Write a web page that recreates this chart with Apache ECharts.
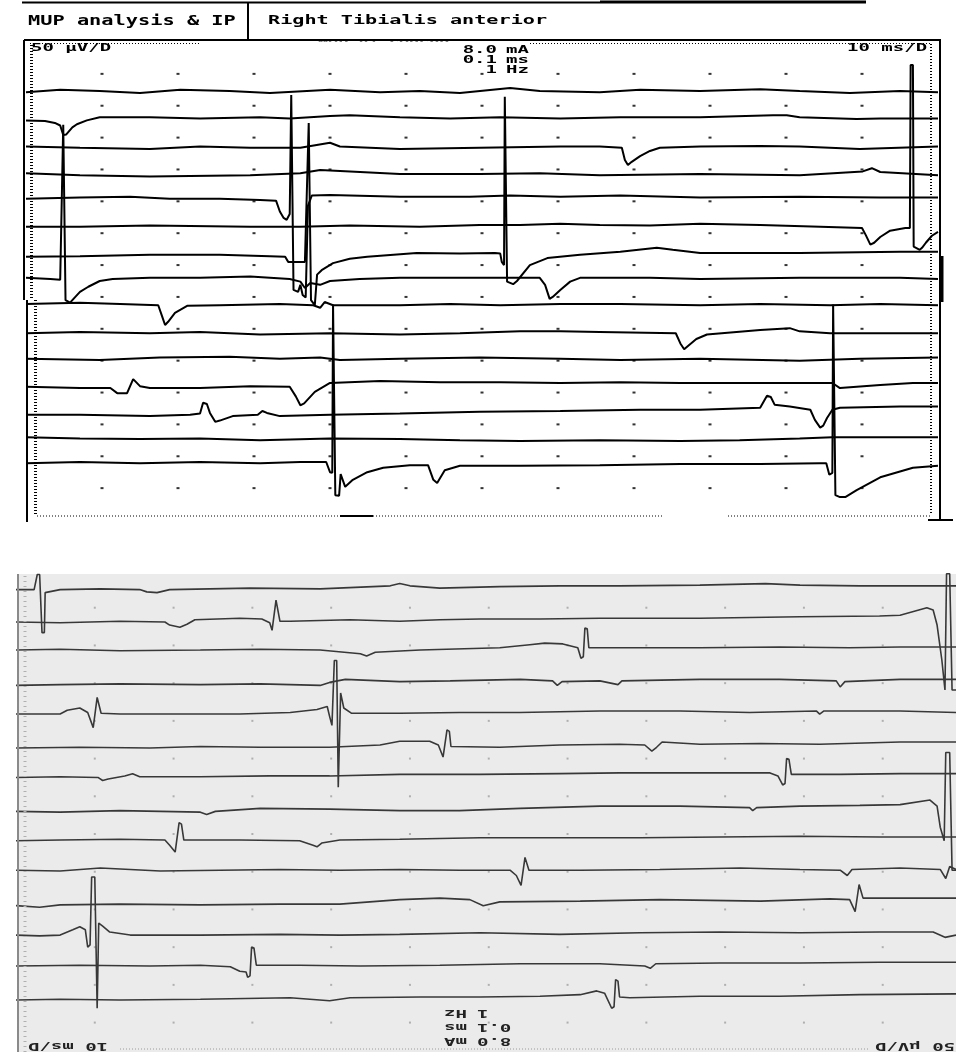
<!DOCTYPE html>
<html>
<head>
<meta charset="utf-8">
<script src="https://cdn.jsdelivr.net/npm/echarts@6/dist/echarts.min.js"></script>
<style>
  html, body { margin: 0; padding: 0; background: #fff; }
  #chart { width: 956px; height: 1052px; }
</style>
</head>
<body>
<div id="chart"></div>
<script>
// Raster EMG sweeps: time in ms (10 ms/D), amplitude in µV (50 µV/D).
// Each sweep is stored as [time ms, deflection µV] around its own baseline.

const xDivisions = [10, 20, 30, 40, 50, 60, 70, 80, 90, 100, 110];
const upperYDivisions = [50, 100, 150, 200, 250, 300, 350, 400, 450, 500, 550, 600, 650, 700];
const lowerYDivisions = [50, 100, 150, 200, 250, 300, 350, 400, 450, 500, 550, 600];

// baselines of the sweeps (µV position in the raster)
const upperBaselines = [673, 632, 584, 541, 504, 460, 416, 380, 339, 293, 253, 207, 165, 130, 91];
const lowerBaselines = [625, 581, 544, 498, 460, 415, 376, 330, 292, 252, 206, 166, 125, 80];

// upper raster
const upper1 = [[0,-2],[4.5,2],[9.7,0],[15.0,-3],[20.3,2],[26.8,0],[32.1,-3],[40.0,2],[46.6,-2],[51.8,0],[57.1,-3],[63.7,5],[67.6,0],[75.5,-2],[80.8,2],[88.7,0],[96.6,3],[101.8,0],[108.4,-3],[115.0,0],[120,-2]];
const upper2 = [[0,-5],[2.5,-6],[3.8,-9],[4.5,-13],[4.9,-28],[5.3,-27],[6.1,-16],[6.7,-11],[8.0,-5],[9.7,0],[16.3,0],[22.9,-2],[30.8,0],[34.7,-2],[40.0,2],[42.6,3],[49.2,0],[55.8,-2],[62.4,0],[70.3,-2],[78.2,0],[88.7,0],[98.3,3],[100.1,3],[101.8,0],[109.3,-3],[112.4,-2],[120,-2]];
const upper3 = [[0,2],[7.1,0],[16.3,-2],[22.9,2],[29.5,0],[36.1,0],[40.0,8],[41.3,2],[49.2,-2],[59.7,0],[70.3,2],[75.5,2],[78.4,0],[78.8,-19],[79.2,-27],[79.7,-22],[80.8,-13],[82.1,-5],[83.4,0],[88.7,2],[96.6,3],[101.8,2],[109.7,-2],[120,2]];
const upper4 = [[0,3],[7.1,0],[16.3,-2],[29.5,0],[36.1,3],[38.7,8],[49.2,2],[59.7,2],[67.6,3],[75.5,0],[88.7,2],[101.8,0],[110.1,6],[111.3,11],[112.4,5],[120,0]];
const upper5 = [[0,0],[7.1,2],[13.7,3],[18.9,0],[25.5,0],[30.8,-2],[32.9,-3],[33.4,-20],[33.9,-30],[34.3,-33],[34.7,-24],[34.9,163],[35.1,163],[35.2,-143],[35.8,-146],[36.1,-135],[36.4,-151],[36.8,-155],[37.1,-11],[37.6,5],[40.0,6],[49.2,3],[58.4,3],[63.7,5],[70.3,3],[78.2,5],[88.7,2],[101.8,3],[112.4,2],[120,2]];
const upper6 = [[0,0],[7.1,0],[16.3,2],[29.5,0],[36.1,0],[42.6,2],[51.8,0],[59.7,3],[65.0,3],[70.3,5],[75.5,3],[82.1,2],[88.7,5],[96.6,3],[104.5,0],[110.0,-2],[110.5,-13],[111.1,-28],[111.6,-25],[112.4,-16],[113.7,-6],[115.7,-2],[116.3,-2],[116.4,254],[116.7,254],[116.8,-31],[117.6,-36],[117.9,-33],[118.4,-25],[119.2,-14],[120,-8]];
const upper7 = [[0,-3],[7.1,-2],[16.3,0],[25.5,0],[32.1,-2],[34.1,-3],[34.5,-11],[35.0,-11],[36.7,-11],[37.2,207],[37.4,207],[37.5,-71],[38.0,-79],[38.3,-31],[38.9,-24],[40.4,-13],[42.6,-6],[44.9,-3],[51.4,3],[57.1,2],[61.7,3],[62.4,2],[62.6,-11],[62.9,-16],[63.0,248],[63.2,248],[63.3,-42],[64.1,-46],[64.6,-41],[66.3,-16],[68.6,-5],[72.9,0],[78.2,5],[83.0,11],[85.1,8],[88.7,3],[101.8,3],[115.0,5],[120,5]];
const upper8 = [[0,0],[3.2,-2],[4.5,-3],[4.7,-5],[4.9,240],[5.1,240],[5.2,-35],[5.8,-39],[6.4,-31],[7.1,-22],[8.2,-14],[9.7,-5],[11.4,-2],[16.3,0],[22.9,0],[29.5,2],[34.7,-2],[36.1,-6],[36.7,-16],[37.4,-8],[38.7,-11],[40.0,-5],[43.9,-2],[49.2,0],[59.7,0],[67.6,0],[68.3,-11],[68.9,-33],[69.3,-30],[70.3,-19],[71.6,-6],[72.9,0],[82.1,0],[88.7,-2],[101.8,0],[115.0,0],[120,-2]];
const upper9 = [[0,0],[7.1,2],[12.4,0],[17.4,-2],[17.9,-19],[18.3,-33],[18.7,-28],[19.6,-14],[21.2,-3],[25.5,-2],[33.4,0],[37.8,-2],[38.7,-6],[39.3,3],[40.4,-2],[42.6,-2],[49.2,-2],[55.8,0],[62.4,-2],[70.3,0],[78.2,0],[88.7,-2],[96.6,0],[105.8,-2],[112.4,0],[120,-2]];
const upper10 = [[0,0],[7.1,2],[16.3,0],[22.9,2],[30.8,-2],[40.0,0],[49.2,-2],[57.1,0],[65.0,3],[70.3,3],[75.5,2],[85.5,0],[86.1,-16],[86.6,-25],[87.1,-20],[88.2,-9],[89.6,-2],[96.6,5],[100.5,8],[101.8,3],[105.8,0],[115.0,0],[120,0]];
const upper11 = [[0,0],[9.7,-2],[17.6,2],[26.8,3],[33.4,0],[38.7,2],[41.3,-2],[49.2,0],[59.7,2],[70.3,0],[78.2,-2],[88.7,0],[101.8,-3],[109.7,0],[120,2]];
const upper12 = [[0,2],[7.1,0],[11.1,0],[12.0,-8],[13.3,-8],[14.1,14],[15.0,3],[16.3,0],[22.9,0],[29.5,3],[34.7,2],[35.5,-13],[36.1,-27],[36.6,-24],[38.0,-6],[40.0,8],[46.6,11],[54.5,9],[62.4,9],[70.3,8],[78.2,9],[86.1,8],[96.6,8],[106.1,8],[107.1,0],[112.4,5],[116.7,8],[120,8]];
const upper13 = [[0,0],[7.1,0],[16.3,-2],[21.6,0],[22.9,2],[23.3,19],[23.8,17],[24.2,3],[24.9,-11],[25.5,-9],[27.2,-2],[30.5,0],[31.1,6],[31.7,3],[33.4,-2],[40.0,0],[49.2,2],[59.7,5],[70.3,6],[80.8,8],[88.7,8],[96.6,11],[97.5,30],[98.0,28],[98.5,16],[100.5,13],[103.2,8],[103.8,-8],[104.5,-20],[104.9,-17],[105.4,-5],[106.1,8],[107.1,11],[115.0,13],[120,13]];
const upper14 = [[0,0],[7.1,-2],[15.0,-3],[22.9,-2],[30.8,-5],[40.0,-2],[49.2,-3],[57.1,-5],[65.0,-6],[75.5,-5],[86.1,-6],[93.9,-5],[101.8,-2],[106.1,0],[112.4,0],[120,0]];
const upper15 = [[0,-2],[7.1,0],[15.0,-2],[22.9,0],[30.8,-2],[36.1,0],[39.5,0],[40.0,-16],[40.3,-17],[40.4,247],[40.6,247],[40.7,-52],[41.2,-53],[41.4,-19],[42.0,-39],[43.0,-28],[44.9,-16],[47.0,-9],[50.5,-5],[52.9,-5],[53.6,-28],[54.1,-33],[55.1,-13],[57.1,-6],[65.0,-6],[75.5,-5],[86.1,-3],[96.6,-3],[104.5,-2],[105.3,-2],[105.7,-20],[106.1,-17],[106.2,247],[106.4,247],[106.5,-52],[107.1,-55],[107.8,-55],[109.3,-44],[112.4,-24],[116.7,-9],[120,-6]];

// lower raster
const lower1 = [[0,-1],[2.3,-1],[2.7,19],[3.0,19],[3.3,-58],[3.6,-58],[3.7,-5],[5.6,-1],[10.7,0],[15.7,-1],[16.6,-4],[17.9,-5],[19.5,-1],[29.7,1],[38.6,0],[47.5,4],[48.7,7],[50.0,4],[53.8,1],[61.4,3],[69.0,4],[76.6,4],[86.8,5],[95.1,7],[99.5,5],[107.1,4],[114.7,4],[119.3,4]];
const lower2 = [[0,0],[5.6,-1],[13.2,1],[18.9,0],[19.5,-4],[20.8,-7],[21.7,-3],[22.7,3],[28.4,5],[31.2,4],[32.2,-1],[32.5,-11],[32.7,-9],[33.0,29],[33.2,28],[33.5,1],[34.8,1],[42.4,3],[48.7,1],[53.8,3],[58.9,4],[66.5,4],[74.1,5],[86.8,5],[99.5,7],[109.6,8],[112.2,9],[115.6,19],[116.4,16],[116.9,-4],[117.5,-50],[117.9,-90],[118.1,64],[118.5,64],[118.8,-90],[119.3,-90]];
const lower3 = [[0,0],[5.6,1],[13.2,-1],[23.4,0],[31.0,1],[38.6,0],[43.7,-5],[44.5,-8],[45.6,-3],[51.3,0],[61.4,3],[65.2,7],[67.1,9],[69.4,8],[71.3,3],[71.7,-11],[72.0,-9],[72.2,29],[72.5,28],[72.7,3],[74.1,3],[86.8,3],[96.9,4],[105.8,3],[112.2,4],[119.3,4]];
const lower4 = [[0,-1],[5.6,0],[13.2,1],[23.4,0],[31.0,1],[38.6,-1],[39.8,3],[41.8,7],[48.7,4],[55.1,5],[64.0,7],[68.1,5],[68.7,-1],[69.3,4],[74.1,5],[76.4,0],[76.9,5],[86.8,7],[96.9,7],[104.1,5],[104.6,-3],[105.2,4],[112.2,7],[119.3,7]];
const lower5 = [[0,-1],[5.6,-1],[6.5,4],[8.1,7],[9.1,1],[9.8,-19],[10.0,-19],[10.3,21],[10.5,20],[10.8,0],[13.2,-1],[19.5,-1],[28.4,-1],[34.8,1],[38.2,5],[39.5,9],[39.8,-4],[40.1,-16],[40.4,70],[40.7,70],[40.9,-98],[41.1,-98],[41.2,27],[41.6,7],[42.6,0],[48.7,0],[56.3,1],[63.9,1],[74.1,3],[84.3,3],[93.1,1],[101.6,3],[102.0,-1],[102.5,3],[112.2,3],[119.3,1]];
const lower6 = [[0,-1],[8.1,0],[17.0,-1],[23.4,1],[31.0,0],[39.8,0],[46.2,3],[48.7,8],[52.5,8],[53.6,3],[54.2,-13],[54.4,-12],[54.7,23],[55.0,21],[55.2,1],[61.4,0],[69.0,3],[76.6,4],[79.8,3],[80.7,-5],[81.3,0],[82.0,7],[86.8,4],[94.5,5],[102.0,4],[112.2,7],[119.3,7]];
const lower7 = [[0,-1],[5.6,0],[10.4,-1],[11.0,-5],[11.7,-3],[13.8,1],[14.8,4],[15.7,0],[23.4,0],[32.2,1],[39.8,1],[48.7,3],[58.9,3],[69.0,4],[76.6,5],[86.8,5],[95.7,5],[96.7,1],[97.3,-11],[97.6,-9],[97.8,24],[98.1,23],[98.4,3],[104.6,3],[112.2,4],[116.0,4],[119.3,4]];
const lower8 = [[0,0],[5.6,-1],[13.2,1],[23.4,-1],[24.2,-4],[25.3,0],[31.0,4],[39.8,3],[48.7,1],[56.3,1],[64.0,4],[74.1,7],[84.3,7],[93.1,5],[93.5,1],[94.0,5],[99.5,7],[107.1,8],[112.2,9],[116.0,15],[116.9,7],[117.3,-21],[117.8,-39],[118.0,78],[118.5,78],[118.8,-78],[119.3,-78]];
const lower9 = [[0,-1],[5.6,0],[13.2,1],[18.9,0],[19.5,-7],[20.2,-16],[20.4,-15],[20.7,23],[21.0,21],[21.3,0],[28.4,0],[36.0,-1],[37.7,-7],[38.2,-9],[38.8,-4],[41.1,0],[48.7,1],[58.9,3],[69.0,3],[79.2,3],[89.3,4],[99.5,5],[109.6,4],[119.3,4]];
const lower10 = [[0,0],[5.6,-1],[10.7,3],[18.3,-1],[25.9,0],[33.5,1],[41.1,0],[48.7,1],[56.3,0],[62.7,0],[63.5,-7],[64.1,-20],[64.3,-19],[64.6,17],[64.8,16],[65.1,0],[71.6,0],[81.7,1],[91.9,3],[99.5,1],[104.6,0],[105.5,-7],[106.1,1],[112.2,3],[117.3,1],[118.0,-11],[118.5,5],[119.3,1]];
const lower11 = [[0,-1],[3.0,-3],[5.6,0],[13.2,1],[23.4,0],[33.5,1],[41.1,1],[48.7,7],[53.8,9],[57.6,7],[59.3,-1],[61.4,4],[71.6,5],[81.7,7],[94.5,5],[103.3,8],[105.8,7],[106.5,-9],[106.7,-8],[107.0,27],[107.2,25],[107.5,9],[112.2,9],[119.3,9]];
const lower12 = [[0,0],[3.0,-1],[5.6,0],[7.2,7],[8.1,11],[8.8,7],[9.1,-16],[9.4,-13],[9.6,77],[10.0,77],[10.3,-97],[10.4,-97],[10.5,16],[11.0,12],[11.9,4],[14.5,0],[23.4,0],[33.5,1],[41.1,0],[48.7,1],[58.9,3],[69.0,1],[79.2,3],[89.3,4],[99.5,3],[109.6,4],[116.4,4],[117.9,-3],[119.3,0]];
const lower13 = [[0,0],[8.1,1],[17.0,0],[23.4,1],[27.2,-1],[28.4,-7],[29.2,-8],[29.4,-15],[29.7,-13],[29.9,25],[30.2,24],[30.5,1],[36.0,1],[43.7,0],[53.8,1],[64.0,3],[74.1,3],[79.8,0],[80.5,-3],[81.2,3],[89.3,4],[99.5,4],[109.6,5],[119.3,5]];
const lower14 = [[0,0],[5.6,1],[13.2,0],[23.4,1],[34.8,3],[39.8,-1],[42.4,3],[51.3,4],[58.9,4],[66.5,5],[71.6,7],[73.7,12],[74.7,9],[75.6,-11],[75.9,-9],[76.1,27],[76.4,25],[76.6,4],[77.9,3],[86.8,5],[96.9,5],[107.1,7],[119.3,8]];

const upperTraces = [upper1, upper2, upper3, upper4, upper5, upper6, upper7, upper8, upper9, upper10, upper11, upper12, upper13, upper14, upper15];
const lowerTraces = [lower1, lower2, lower3, lower4, lower5, lower6, lower7, lower8, lower9, lower10, lower11, lower12, lower13, lower14];

const chart = echarts.init(document.getElementById('chart'), null, { renderer: 'canvas' });

const series = [];

// division dots
const upperDots = [];
xDivisions.forEach(x => upperYDivisions.forEach(y => upperDots.push([x, y])));
const lowerDots = [];
xDivisions.forEach(x => lowerYDivisions.forEach(y => lowerDots.push([x, y])));

series.push({
  type: 'scatter', xAxisIndex: 0, yAxisIndex: 0, data: upperDots,
  symbol: 'rect', symbolSize: [3, 2], itemStyle: { color: '#000' }, silent: true, z: 2
});
series.push({
  type: 'scatter', xAxisIndex: 1, yAxisIndex: 1, data: lowerDots,
  symbol: 'rect', symbolSize: [2, 2], itemStyle: { color: '#a0a0a0' }, silent: true, z: 2
});

upperTraces.forEach((trace, i) => {
  series.push({
    type: 'line', xAxisIndex: 0, yAxisIndex: 0,
    data: trace.map(p => [p[0], upperBaselines[i] + p[1]]),
    symbol: 'none', showSymbol: false, smooth: false,
    lineStyle: { color: '#000', width: 2 },
    silent: true, z: 3
  });
});

lowerTraces.forEach((trace, i) => {
  series.push({
    type: 'line', xAxisIndex: 1, yAxisIndex: 1,
    data: trace.map(p => [p[0], lowerBaselines[i] + p[1]]),
    symbol: 'none', showSymbol: false, smooth: false,
    lineStyle: { color: '#383838', width: 1.6 },
    silent: true, z: 3
  });
});

const MONO = '"DejaVu Sans Mono", "Liberation Mono", monospace';

function hline(x1, x2, y, w, color, dash) {
  return { type: 'line', silent: true, z: 12,
    shape: { x1: x1, y1: y, x2: x2, y2: y },
    style: { stroke: color || '#000', lineWidth: w, lineDash: dash || null } };
}
function vline(x, y1, y2, w, color, dash) {
  return { type: 'line', silent: true, z: 12,
    shape: { x1: x, y1: y1, x2: x, y2: y2 },
    style: { stroke: color || '#000', lineWidth: w, lineDash: dash || null } };
}
function label(text, x, y, opts) {
  opts = opts || {};
  return { type: 'text', silent: true, z: opts.z || 13,
    x: x, y: y, scaleX: opts.scaleX || 1.9, rotation: opts.rotation || 0,
    style: { text: text, font: 'bold ' + (opts.size || 10) + 'px ' + MONO,
      fill: opts.color || '#000', align: opts.align || 'left', verticalAlign: 'middle' } };
}

const graphic = [
  // lower panel background and left edge
  { type: 'rect', silent: true, z: 0, shape: { x: 17, y: 574, width: 939, height: 478 }, style: { fill: '#ebebeb' } },
  vline(18, 574, 1052, 2, '#8a8a8a'),
  vline(25, 576, 1052, 3, '#b0b0b0', [1, 4]),
  hline(120, 870, 1049, 1, '#9a9a9a', [1, 2]),

  // upper panel frame
  hline(22, 600, 2.5, 2),
  hline(600, 866, 2, 3),
  vline(248, 3, 40, 2),
  label('MUP 01 CURSOR', 318, 45, { size: 12, scaleX: 1.4, z: 10 }),
  { type: 'rect', silent: true, z: 11, shape: { x: 300, y: 41.5, width: 180, height: 10 }, style: { fill: '#fff' } },
  hline(24, 941, 40, 2),
  vline(24, 40, 300, 2),
  vline(27, 300, 522, 2),
  vline(31.5, 45, 300, 3, '#000', [1, 2]),
  vline(35.5, 300, 515, 3, '#000', [1, 2]),
  hline(30, 200, 43.5, 1, '#000', [1, 2]),
  hline(530, 932, 43.5, 1, '#000', [1, 2]),
  vline(931, 44, 515, 2, '#000', [1, 2]),
  vline(940, 39, 520, 2),
  vline(942, 256, 302, 3),
  hline(37, 663, 516, 1, '#000', [1, 2]),
  hline(728, 932, 516, 1, '#000', [1, 2]),
  hline(340, 373, 516, 2),
  hline(928, 953, 520, 2),

  // header texts
  label('MUP analysis & IP', 28, 21, { size: 14, scaleX: 1.45 }),
  label('Right Tibialis anterior', 268, 21, { size: 13, scaleX: 1.55 }),

  // sensitivity / sweep / stimulus settings
  label('50 µV/D', 31, 48, {}),
  label('10 ms/D', 847, 48, {}),
  label('8.0', 497, 50, { align: 'right' }),
  label('mA', 506, 50, {}),
  label('0.1', 497, 60, { align: 'right' }),
  label('ms', 506, 60, {}),
  label('1', 497, 70, { align: 'right' }),
  label('Hz', 506, 70, {}),

  // lower panel settings, printed upside down
  label('1', 477, 1013, { align: 'right', rotation: Math.PI, color: '#222' }),
  label('Hz', 467, 1013, { rotation: Math.PI, color: '#222' }),
  label('0.1', 477, 1027, { align: 'right', rotation: Math.PI, color: '#222' }),
  label('ms', 467, 1027, { rotation: Math.PI, color: '#222' }),
  label('8.0', 477, 1041, { align: 'right', rotation: Math.PI, color: '#222' }),
  label('mA', 467, 1041, { rotation: Math.PI, color: '#222' }),
  label('10 ms/D', 28, 1046, { align: 'right', rotation: Math.PI, color: '#222' }),
  label('50 µV/D', 875, 1046, { align: 'right', rotation: Math.PI, color: '#222' })
];

const hiddenAxis = { show: false, axisLine: { show: false }, axisTick: { show: false }, axisLabel: { show: false }, splitLine: { show: false } };

chart.setOption({
  animation: false,
  backgroundColor: '#fff',
  grid: [
    { left: 26, top: 42, width: 912, height: 478 },
    { left: 16, top: 570, width: 940, height: 482 }
  ],
  xAxis: [
    Object.assign({ type: 'value', gridIndex: 0, min: 0, max: 120 }, hiddenAxis),
    Object.assign({ type: 'value', gridIndex: 1, min: 0, max: 119.3 }, hiddenAxis)
  ],
  yAxis: [
    Object.assign({ type: 'value', gridIndex: 0, min: 0, max: 750 }, hiddenAxis),
    Object.assign({ type: 'value', gridIndex: 1, min: 11, max: 650 }, hiddenAxis)
  ],
  series: series,
  graphic: graphic
});
</script>
</body>
</html>
